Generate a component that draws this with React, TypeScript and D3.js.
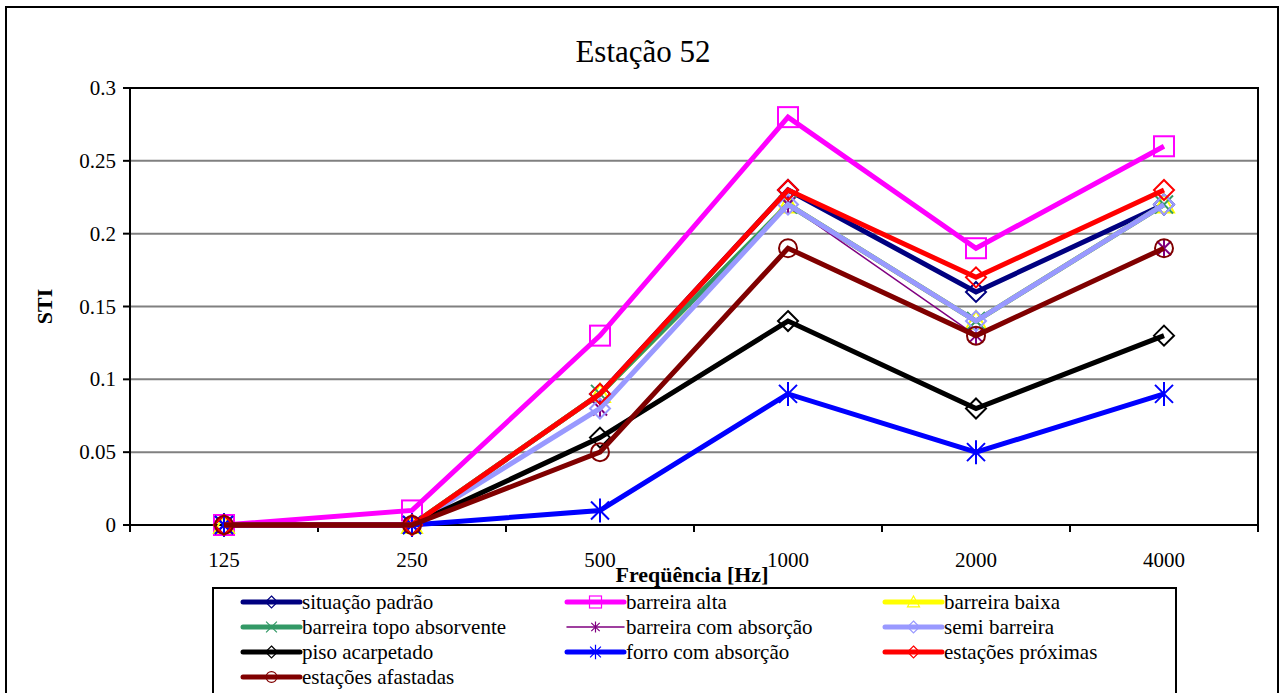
import React from "react";
import * as d3 from "d3";

const categories = ["125", "250", "500", "1000", "2000", "4000"];
const yTicks = [0, 0.05, 0.1, 0.15, 0.2, 0.25, 0.3];

const situacaoPadrao = [0, 0, 0.09, 0.23, 0.16, 0.22];
const barreiraAlta = [0, 0.01, 0.13, 0.28, 0.19, 0.26];
const barreiraBaixa = [0, 0, 0.09, 0.22, 0.14, 0.22];
const barreiraTopo = [0, 0, 0.09, 0.22, 0.14, 0.22];
const barreiraComAbs = [0, 0, 0.08, 0.22, 0.13, 0.19];
const semiBarreira = [0, 0, 0.08, 0.22, 0.14, 0.22];
const pisoAcarpetado = [0, 0, 0.06, 0.14, 0.08, 0.13];
const forroComAbs = [0, 0, 0.01, 0.09, 0.05, 0.09];
const estacoesProximas = [0, 0, 0.09, 0.23, 0.17, 0.23];
const estacoesAfastadas = [0, 0, 0.05, 0.19, 0.13, 0.19];

type Marker = "diamond" | "square" | "triangle" | "x" | "asterisk" | "circle" | "star";
interface Series { name: string; values: number[]; color: string; width: number; marker: Marker; }

const series: Series[] = [
  { name: "situação padrão", values: situacaoPadrao, color: "#000080", width: 5, marker: "diamond" },
  { name: "barreira alta", values: barreiraAlta, color: "#FF00FF", width: 5, marker: "square" },
  { name: "barreira baixa", values: barreiraBaixa, color: "#FFFF00", width: 5, marker: "triangle" },
  { name: "barreira topo absorvente", values: barreiraTopo, color: "#339966", width: 5, marker: "x" },
  { name: "barreira com absorção", values: barreiraComAbs, color: "#800080", width: 1.5, marker: "asterisk" },
  { name: "semi barreira", values: semiBarreira, color: "#9999FF", width: 5, marker: "diamond" },
  { name: "piso acarpetado", values: pisoAcarpetado, color: "#000000", width: 5, marker: "diamond" },
  { name: "forro com absorção", values: forroComAbs, color: "#0000FF", width: 5, marker: "star" },
  { name: "estações próximas", values: estacoesProximas, color: "#FF0000", width: 5, marker: "diamond" },
  { name: "estações afastadas", values: estacoesAfastadas, color: "#800000", width: 5, marker: "circle" },
];

const FONT = "'Liberation Serif', 'Times New Roman', serif";

function MarkerShape({ type, x, y, color }: { type: Marker; x: number; y: number; color: string }) {
  const sw = 2;
  switch (type) {
    case "diamond":
      return <path d={`M${x},${y - 10}L${x + 10},${y}L${x},${y + 10}L${x - 10},${y}Z`} fill="none" stroke={color} strokeWidth={sw} />;
    case "square":
      return <rect x={x - 10} y={y - 10} width={20} height={20} fill="none" stroke={color} strokeWidth={sw} />;
    case "triangle":
      return <path d={`M${x},${y - 10}L${x + 10},${y + 8}L${x - 10},${y + 8}Z`} fill="none" stroke={color} strokeWidth={sw} />;
    case "x":
      return <path d={`M${x - 9},${y - 9}L${x + 9},${y + 9}M${x + 9},${y - 9}L${x - 9},${y + 9}`} stroke={color} strokeWidth={sw} />;
    case "asterisk":
      return <path d={`M${x - 7},${y - 7}L${x + 7},${y + 7}M${x + 7},${y - 7}L${x - 7},${y + 7}M${x},${y - 9}L${x},${y + 9}`} stroke={color} strokeWidth={sw} />;
    case "star":
      return <path d={`M${x - 9},${y - 9}L${x + 9},${y + 9}M${x + 9},${y - 9}L${x - 9},${y + 9}M${x},${y - 12}L${x},${y + 12}`} stroke={color} strokeWidth={sw} />;
    case "circle":
      return <circle cx={x} cy={y} r={9} fill="none" stroke={color} strokeWidth={sw} />;
  }
  return null;
}

export default function App() {
  const W = 1285, H = 693;
  const plotL = 130, plotR = 1258, plotT = 88, plotB = 525;
  const x = d3.scaleBand<string>().domain(categories).range([plotL, plotR]);
  const y = d3.scaleLinear().domain([0, 0.3]).range([plotB, plotT]);
  const cx = (c: string) => (x(c) as number) + x.bandwidth() / 2;
  const line = d3.line<number>().x((_, i) => cx(categories[i])).y((v) => y(v));
  const boundaries = categories.map((c) => x(c) as number).concat([plotR]);

  const legendCols = [243, 567, 885];
  const legendRows = [602, 627, 652, 677];

  return (
    <svg width={W} height={H} style={{ position: "absolute", left: 0, top: 0, background: "#fff" }} fontFamily={FONT}>
      <rect x={0} y={0} width={W} height={H} fill="#fff" />
      <rect x={6} y={7} width={1272} height={720} fill="#fff" stroke="#000" strokeWidth={2} />
      <text x={643} y={62} textAnchor="middle" fontSize={31}>Estação 52</text>

      {yTicks.map((t) => (
        <g key={t}>
          {t > 0 && t < 0.3 && <line x1={plotL} x2={plotR} y1={y(t)} y2={y(t)} stroke="#808080" strokeWidth={2} />}
          <line x1={plotL - 7} x2={plotL} y1={y(t)} y2={y(t)} stroke="#000" strokeWidth={2} />
          <text x={plotL - 14} y={y(t) + 7} textAnchor="end" fontSize={21}>{String(t)}</text>
        </g>
      ))}
      <rect x={plotL} y={plotT} width={plotR - plotL} height={plotB - plotT} fill="none" stroke="#000" strokeWidth={2} />
      {boundaries.map((b, i) => (
        <line key={i} x1={b} x2={b} y1={plotB} y2={plotB + 7} stroke="#000" strokeWidth={2} />
      ))}
      {categories.map((c) => (
        <text key={c} x={cx(c)} y={567} textAnchor="middle" fontSize={21}>{c}</text>
      ))}
      <text x={692} y={582} textAnchor="middle" fontSize={22} fontWeight="bold">Freqüência [Hz]</text>
      <text transform={`translate(52,${(plotT + plotB) / 2}) rotate(-90)`} textAnchor="middle" fontSize={22} fontWeight="bold">STI</text>

      {series.map((s) => (
        <g key={s.name}>
          <path d={line(s.values) || ""} fill="none" stroke={s.color} strokeWidth={s.width} strokeLinejoin="miter" />
          {s.values.map((v, i) => (
            <MarkerShape key={i} type={s.marker} x={cx(categories[i])} y={y(v)} color={s.color} />
          ))}
        </g>
      ))}

      <rect x={213} y={588} width={963} height={140} fill="#fff" stroke="#000" strokeWidth={2} />
      {series.map((s, i) => {
        const col = i % 3, row = Math.floor(i / 3);
        const lx = legendCols[col], ly = legendRows[row];
        return (
          <g key={s.name}>
            <line x1={lx} x2={lx + 57} y1={ly} y2={ly} stroke={s.color} strokeWidth={s.width} strokeLinecap="round" />
            <g transform={`translate(${lx + 28.5},${ly}) scale(0.6) translate(${-(lx + 28.5)},${-ly})`}>
              <MarkerShape type={s.marker} x={lx + 28.5} y={ly} color={s.color} />
            </g>
            <text x={lx + 59} y={ly + 7} fontSize={21}>{s.name}</text>
          </g>
        );
      })}
    </svg>
  );
}
